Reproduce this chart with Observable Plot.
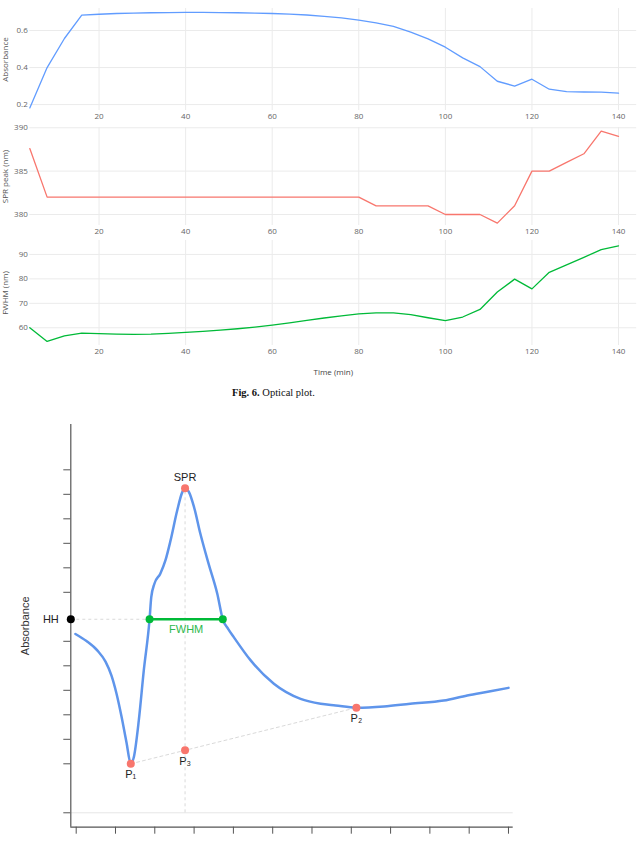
<!DOCTYPE html>
<html><head><meta charset="utf-8">
<script src="https://cdn.jsdelivr.net/npm/d3@7"></script>
<script src="https://cdn.jsdelivr.net/npm/@observablehq/plot@0.6"></script>
<style>
html,body{margin:0;padding:0;background:#fff;}
#wrap{position:relative;width:640px;height:857px;overflow:hidden;background:#fff;}
.pan{position:absolute;left:0;}
#caption{position:absolute;left:232px;top:386px;font-family:"Liberation Serif",serif;font-size:10.5px;line-height:14px;color:#111;white-space:nowrap;}
</style></head><body>
<div id="wrap">
  <div class="pan" id="p1" style="top:0px"></div>
  <div class="pan" id="p2" style="top:120px"></div>
  <div class="pan" id="p3" style="top:235px"></div>
  <div id="caption"><b>Fig. 6.</b> Optical plot.</div>
  <div class="pan" id="p4" style="top:415px"></div>
</div>
<script>
// ---------- Fig. 6 time series ----------
const time = [4,8,12,16,20,24,28,32,36,40,44,48,52,56,60,64,68,72,76,80,84,88,92,96,100,104,108,112,116,120,124,128,132,136,140];
const absorbance = [0.182,0.400,0.557,0.683,0.688,0.692,0.694,0.696,0.697,0.698,0.698,0.697,0.696,0.694,0.692,0.689,0.684,0.677,0.668,0.656,0.641,0.623,0.591,0.555,0.510,0.452,0.405,0.326,0.300,0.337,0.283,0.270,0.268,0.267,0.262];
const sprPeakNm = [387.6,382,382,382,382,382,382,382,382,382,382,382,382,382,382,382,382,382,382,382,381,381,381,381,380,380,380,379,381,385,385,386,387,389.6,389];
const fwhmNm = [60.0,54.4,56.7,57.8,57.6,57.4,57.3,57.4,57.7,58.1,58.5,59.0,59.6,60.3,61.1,62.0,63.0,64.0,64.9,65.7,66.1,66.1,65.4,64.1,62.9,64.4,67.5,74.6,79.9,75.9,82.7,85.7,88.8,92.0,93.5];
const timeTicks = [20,40,60,80,100,120,140];
const absTicks = [0.2,0.4,0.6];
const sprTicks = [380,385,390];
const fwhmTicks = [60,70,80,90];

// ---------- schematic ----------
const curveU = [-0.02,0.262,0.542,0.746,0.898,1.025,1.153,1.28,1.389,1.466,1.593,1.72,1.867,1.91,1.99,2.14,2.27,2.40,2.57,2.70,2.77,2.87,3.0,3.16,3.37,3.59,3.73,3.87,4.01,4.44,5.03,5.71,6.22,6.6,7.13,7.83,8.5,9.35,9.95,10.54,11.0];
const curveV = [7.3,7.01,6.62,6.17,5.6,4.87,3.93,2.87,2.0,2.27,3.77,5.81,7.9,8.8,9.35,9.76,10.3,11.11,12.34,13.09,13.25,13.09,12.47,11.39,10.16,8.94,7.9,7.5,7.17,6.22,5.27,4.65,4.45,4.38,4.29,4.34,4.45,4.58,4.79,4.96,5.1];
const sprPt = {u: 2.77, v: 13.25, label: "SPR"};
const p1 = {u: 1.389, v: 2.0, label: "P\u2081"};
const p2 = {u: 7.13, v: 4.29, label: "P\u2082"};
const p3 = {u: 2.77, v: 2.55, label: "P\u2083"};
const hh = {u: -0.1374, v: 7.9, label: "HH"};
const fwhmL = {u: 1.867, v: 7.9};
const fwhmR = {u: 3.73, v: 7.9};
const schemXTicks = [0,1,2,3,4,5,6,7,8,9,10,11];
const schemYTicks = [0,2,3,4,5,6,7,9,10,11,12,13,14];
const schemXDomain = [-0.1374, 11.12];
const schemYDomain = [-0.588, 15.85];

const rows = time.map((t, i) => ({t, a: absorbance[i], s: sprPeakNm[i], f: fwhmNm[i]}));

function panel(id, height, mt, mb, yDomain, yTicks, yFmt, key, color, title, extra = []) {
  const el = Plot.plot({
    width: 640, height, marginTop: mt, marginBottom: mb, marginLeft: 29.3, marginRight: 3.8,
    style: {background: "transparent", overflow: "visible", fontFamily: "'Open Sans', sans-serif", fontSize: "8px", color: "#666"},
    x: {domain: [4, 144.2], ticks: timeTicks, tickSize: 0, tickPadding: 3, label: null},
    y: {domain: yDomain, ticks: yTicks, tickSize: 0, tickPadding: 2, tickFormat: yFmt, label: null},
    marks: [
      Plot.ruleX(timeTicks, {stroke: "#ebebeb", strokeWidth: 1}),
      Plot.ruleY(yTicks, {stroke: "#ebebeb", strokeWidth: 1}),
      Plot.line(rows, {x: "t", y: key, stroke: color, strokeWidth: 1.3}),
      Plot.text([title], {frameAnchor: "left", dx: -24, rotate: -90, textAnchor: "middle", fill: "#555", fontSize: 8}),
      ...extra
    ]
  });
  document.getElementById(id).appendChild(el);
}

panel("p1", 125, 8, 15, [0.168, 0.719], absTicks, d3.format(".1f"), "a", "#619CFF", "Absorbance");
panel("p2", 120, 7, 15, [378.73, 390.03], sprTicks, d3.format("d"), "s", "#F8766D", "SPR peak (nm)");
panel("p3", 145, 5, 35, [52.75, 95.7], fwhmTicks, d3.format("d"), "f", "#00BA38", "FWHM (nm)",
  [Plot.text(["Time (min)"], {frameAnchor: "bottom", dy: 29, fill: "#444", fontSize: 8})]);

const curve = curveU.map((u, i) => ({u, v: curveV[i]}));
const schem = Plot.plot({
  width: 640, height: 442, marginTop: 9, marginBottom: 30.3, marginLeft: 70.3, marginRight: 127.3,
  style: {background: "transparent", overflow: "visible", fontFamily: "'Liberation Sans', Arial, sans-serif", fontSize: "11px", color: "#555"},
  x: {domain: schemXDomain, ticks: schemXTicks, tickSize: 7, tickFormat: () => "", label: null},
  y: {domain: schemYDomain, ticks: schemYTicks, tickSize: 7, tickFormat: () => "", label: null},
  marks: [
    Plot.ruleY([0], {stroke: "#e6e6e6"}),
    Plot.ruleX([schemXDomain[0]], {stroke: "#555", strokeWidth: 1.2}),
    Plot.ruleY([schemYDomain[0]], {stroke: "#555", strokeWidth: 1.2}),
    Plot.ruleX([sprPt], {x: "u", y1: 0, y2: "v", stroke: "#cfcfcf", strokeDasharray: "3,3", strokeWidth: 0.8}),
    Plot.ruleY([hh], {y: "v", x1: "u", x2: () => fwhmL.u, stroke: "#cfcfcf", strokeDasharray: "3,3", strokeWidth: 0.8}),
    Plot.line([p1, p2], {x: "u", y: "v", stroke: "#cfcfcf", strokeDasharray: "3,3", strokeWidth: 0.8}),
    Plot.line(curve, {x: "u", y: "v", curve: "monotone-x", stroke: "#5f95eb", strokeWidth: 2.5}),
    Plot.line([fwhmL, fwhmR], {x: "u", y: "v", stroke: "#00BA38", strokeWidth: 2.5}),
    Plot.dot([fwhmL, fwhmR], {x: "u", y: "v", r: 4, fill: "#00BA38"}),
    Plot.dot([sprPt, p1, p2, p3], {x: "u", y: "v", r: 4, fill: "#F8766D"}),
    Plot.dot([hh], {x: "u", y: "v", r: 4, fill: "#000"}),
    Plot.text([sprPt], {x: "u", y: "v", text: "label", dy: -11, fill: "#222", fontSize: 11}),
    Plot.text([hh], {x: "u", y: "v", text: "label", dx: -12, textAnchor: "end", fill: "#222", fontSize: 11}),
    Plot.text([{u: (fwhmL.u + fwhmR.u) / 2, v: fwhmL.v}], {x: "u", y: "v", text: () => "FWHM", dy: 10, fill: "#2db84d", fontSize: 11}),
    Plot.text([p1, p2, p3], {x: "u", y: "v", text: "label", dy: 11, fill: "#222", fontSize: 11}),
    Plot.text(["Absorbance"], {frameAnchor: "left", dx: -45, rotate: -90, textAnchor: "middle", fill: "#333", fontSize: 11})
  ]
});
document.getElementById("p4").appendChild(schem);
</script>
</body></html>
